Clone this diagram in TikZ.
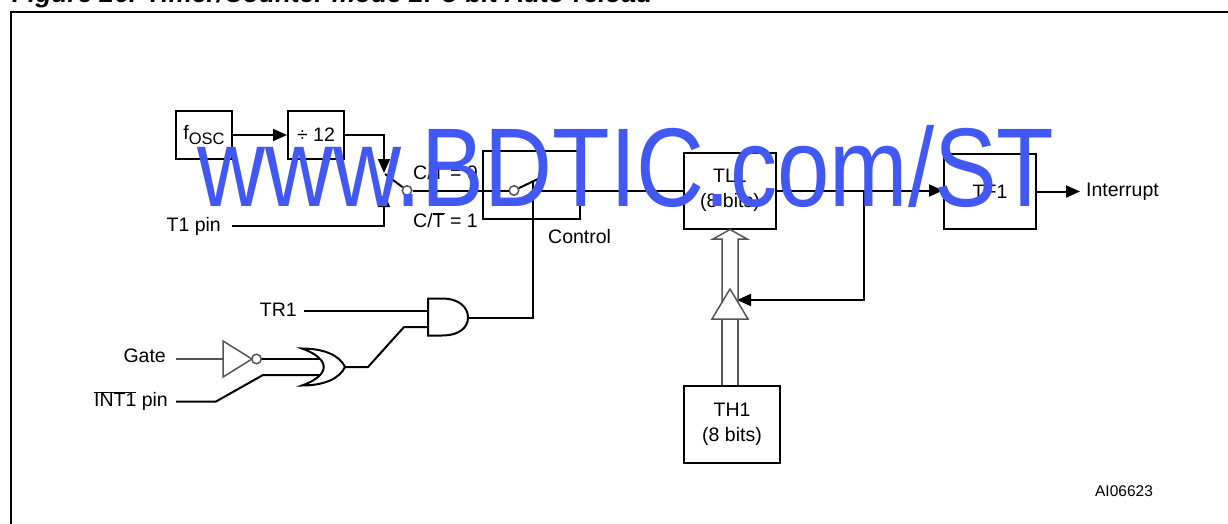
\documentclass[tikz,border=0pt]{standalone}
\usepackage{fontspec}
\setmainfont{Liberation Sans}
\usetikzlibrary{arrows.meta}
\definecolor{wmblue}{RGB}{66,88,245}
\definecolor{gategray}{RGB}{85,85,85}
\newcommand{\lbfont}{\fontsize{19.5}{25}\selectfont}
\begin{document}
\begin{tikzpicture}[x=1pt,y=-1pt,
  wire/.style={line width=2pt},
  gwire/.style={line width=1.5pt, draw=gategray},
  tip/.style={-{Triangle[width=12pt,length=14pt]}},
  blk/.style={draw, line width=2pt, inner sep=0pt, align=center, font=\lbfont},
  lbl/.style={inner sep=0pt, font=\lbfont},
  swc/.style={circle, draw=gategray, line width=1.5pt, minimum size=9.5pt, inner sep=0pt, fill=white}]
\useasboundingbox (0,0) rectangle (1228,524);
\clip (0,0) rectangle (1228,524);
% frame and title
\draw[line width=2pt] (11,540) -- (11,12) -- (1240,12);
\node[anchor=base west, inner sep=0pt] (title) at (12,3)
  {\resizebox{640pt}{!}{\bfseries\itshape Figure 26. Timer/Counter mode 2: 8-bit Auto-reload}};
% blocks
\node[blk, minimum width=56pt, minimum height=48pt] (fosc) at (204,135)
  {f\raisebox{-5pt}{\fontsize{16.5}{16}\selectfont OSC}};
\node[blk, minimum width=56pt, minimum height=48pt] (div) at (316,135) {÷ 12};
\node[draw, line width=2pt, minimum width=97pt, minimum height=68pt, inner sep=0pt] (ctrl) at (531.5,185) {};
\node[lbl, anchor=west] (ctrllbl) at (548,237) {Control};
\node[blk, minimum width=92pt, minimum height=76pt] (TL1) at (730,190.5) {TL1\\(8 bits)};
\node[blk, minimum width=92pt, minimum height=75pt] (TF1) at (990,191.5) {TF1};
\node[blk, minimum width=96pt, minimum height=77pt] (TH1) at (732,424.5) {TH1\\(8 bits)};
% labels
\node[lbl, anchor=east] (t1pin) at (221,226) {T1 pin};
\node[lbl, anchor=east] (tr1) at (297,310) {TR1};
\node[lbl, anchor=east] (gate) at (166,356) {Gate};
\node[lbl, anchor=east] (int1) at (168,401) {$\overline{\mbox{INT1}}$ pin};
\node[lbl, anchor=west] (intr) at (1086,192) {Interrupt};
\node[lbl, anchor=west] (ct0) at (413,172) {C/$\overline{\mbox{T}}$ = 0};
\node[lbl, anchor=west] (ct1) at (413,220) {C/$\overline{\mbox{T}}$ = 1};
\node[inner sep=0pt, font=\fontsize{15.5}{16}\selectfont] (ai) at (1124,491) {AI06623};
% switch 1
\coordinate (sw1top) at (384,173);
\coordinate (sw1bot) at (384,193);
\coordinate (t1a) at (232,226);
\coordinate (lev1) at (385,174);
\draw[wire,tip] (fosc.east) -- (div.west);
\draw[wire,tip] (div.east) -| (sw1top);
\draw[wire,tip] (t1a) -| (sw1bot);
\node[swc] (s1c) at (407,190.5) {};
\node[swc] (s2c) at (514,190.5) {};
\draw[wire] (lev1) -- (s1c);
\draw[wire] (s1c) -- (s2c);
\coordinate (lev2) at (541,177.5);
\draw[wire] (s2c) -- (lev2);
\coordinate (ctl) at (533,181.5);
\coordinate (mainL) at (533,190.5);
\draw[wire] (mainL) -- (TL1.west);
\draw[wire,tip] (TL1.east) -- (TF1.west |- TL1.east);
\coordinate (intrtip) at (1080,191.5);
\draw[wire,tip] (TF1.east |- intrtip) -- (intrtip);
% feedback
\coordinate (fb) at (864,190.5);
\coordinate (fbtip) at (737,300);
\draw[wire,tip] (fb) |- (fbtip);
% bus arrow
\draw[gwire, line join=miter] (722,302.3) -- (722,239) -- (713,239) -- (TL1.south) -- (747,239) -- (738,239) -- (738,302.3);
\draw[gwire, fill=white] (730,289) -- (748,319) -- (712,319) -- cycle;
\coordinate (busl) at (722,319);
\coordinate (busr) at (738,319);
\draw[gwire] (busl) -- (busl |- TH1.north);
\draw[gwire] (busr) -- (busr |- TH1.north);
% AND gate
\coordinate (andin1) at (428,311);
\coordinate (andin2) at (428,327);
\coordinate (andout) at (468,317.5);
\draw[wire] (428,298.5) -- (442,298.5) .. controls (460,298.5) and (468,308) .. (468,317.5)
   .. controls (468,327) and (460,335.5) .. (442,335.5) -- (428,335.5) -- cycle;
\coordinate (tr1a) at (304,311);
\draw[wire] (tr1a) -- (andin1);
\draw[wire] (ctl) |- (andout);
% OR gate
\draw[wire] (302,348.5) .. controls (325,348.5) and (340,356) .. (345,367)
   .. controls (340,378) and (325,385.5) .. (302,385.5)
   .. controls (331,375) and (331,359) .. (302,348.5) -- cycle;
\coordinate (orout) at (345,367);
\coordinate (orin1) at (320,359);
\coordinate (orin2) at (320,375);
\draw[wire] (orout) -- (368,367) -- (404,327) -- (andin2);
% inverter
\draw[gwire] (223,341) -- (252,359) -- (223,377) -- cycle;
\node[circle, draw=gategray, line width=1.5pt, minimum size=9.5pt, inner sep=0pt] (bub) at (256.5,359) {};
\coordinate (gatea) at (176,359);
\draw[gwire] (gatea) -- (223,359);
\draw[wire] (bub) -- (orin1);
\coordinate (int1a) at (176,401.5);
\draw[wire] (int1a) -- (216,401.5) -- (263,375) -- (orin2);
% watermark
\node[anchor=base west, inner sep=0pt, text=wmblue, xscale=0.84,
  font=\fontsize{112}{112}\selectfont] (wm) at (197,206) {www.BDTIC.com/ST};
\end{tikzpicture}
\end{document}
